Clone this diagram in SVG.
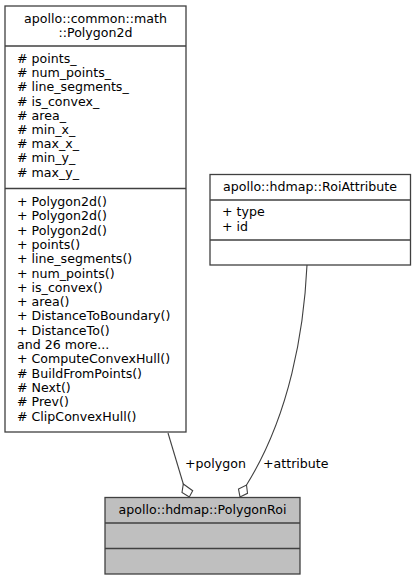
<svg xmlns="http://www.w3.org/2000/svg" width="416" height="580" viewBox="0 0 416 580">
<style>
text{font-family:"DejaVu Sans",sans-serif;font-size:12.6px;fill:#000}
.c{text-anchor:middle}
.box{fill:#fff;stroke:#404040;stroke-width:1.3}
.gray{fill:#bfbfbf;stroke:#404040;stroke-width:1.3}
.sep{stroke:#404040;stroke-width:1.3}
.edge{fill:none;stroke:#404040;stroke-width:1.1}
.dia{fill:#fff;stroke:#404040;stroke-width:1.1}
</style>
<rect width="416" height="580" fill="#fff"/>
<g id="node-polygon2d">
<rect class="box" x="5" y="6" width="181" height="426"/>
<line class="sep" x1="5" y1="46" x2="186" y2="46"/>
<line class="sep" x1="5" y1="188.5" x2="186" y2="188.5"/>
<text class="c" x="95.5" y="23">apollo::common::math</text>
<text class="c" x="95.5" y="37">::Polygon2d</text>
<text x="17" y="63"># points_</text>
<text x="17" y="77.2"># num_points_</text>
<text x="17" y="91.4"># line_segments_</text>
<text x="17" y="105.6"># is_convex_</text>
<text x="17" y="119.8"># area_</text>
<text x="17" y="134"># min_x_</text>
<text x="17" y="148.2"># max_x_</text>
<text x="17" y="162.4"># min_y_</text>
<text x="17" y="176.6"># max_y_</text>
<text x="17" y="206">+ Polygon2d()</text>
<text x="17" y="220.3">+ Polygon2d()</text>
<text x="17" y="234.6">+ Polygon2d()</text>
<text x="17" y="248.9">+ points()</text>
<text x="17" y="263.2">+ line_segments()</text>
<text x="17" y="277.5">+ num_points()</text>
<text x="17" y="291.8">+ is_convex()</text>
<text x="17" y="306.1">+ area()</text>
<text x="17" y="320.4">+ DistanceToBoundary()</text>
<text x="17" y="334.7">+ DistanceTo()</text>
<text x="17" y="349">and 26 more...</text>
<text x="17" y="363.3">+ ComputeConvexHull()</text>
<text x="17" y="377.6"># BuildFromPoints()</text>
<text x="17" y="391.9"># Next()</text>
<text x="17" y="406.2"># Prev()</text>
<text x="17" y="420.5"># ClipConvexHull()</text>
</g>
<g id="node-roiattribute">
<rect class="box" x="210" y="174.5" width="200.5" height="90.5"/>
<line class="sep" x1="210" y1="200" x2="410.5" y2="200"/>
<line class="sep" x1="210" y1="240" x2="410.5" y2="240"/>
<text class="c" x="310" y="191">apollo::hdmap::RoiAttribute</text>
<text x="222" y="216">+ type</text>
<text x="222" y="230.5">+ id</text>
</g>
<g id="node-polygonroi">
<rect class="gray" x="105" y="497.5" width="195" height="76.5"/>
<line class="sep" x1="105" y1="523" x2="300" y2="523"/>
<line class="sep" x1="105" y1="548.5" x2="300" y2="548.5"/>
<text class="c" x="202.5" y="514">apollo::hdmap::PolygonRoi</text>
</g>
<g id="connectors">
<path class="edge" d="M168,433 L183.3,484"/>
<polygon class="dia" points="183.3,484 192.7,490.7 189.3,496.9 182,492.5"/>
<text x="185" y="468">+polygon</text>
<path class="edge" d="M307,265 C304,330 290,415 246.5,485"/>
<polygon class="dia" points="246.5,485 247.5,493.3 240,496.9 238.5,489"/>
<text x="263" y="468">+attribute</text>
</g>
</svg>
